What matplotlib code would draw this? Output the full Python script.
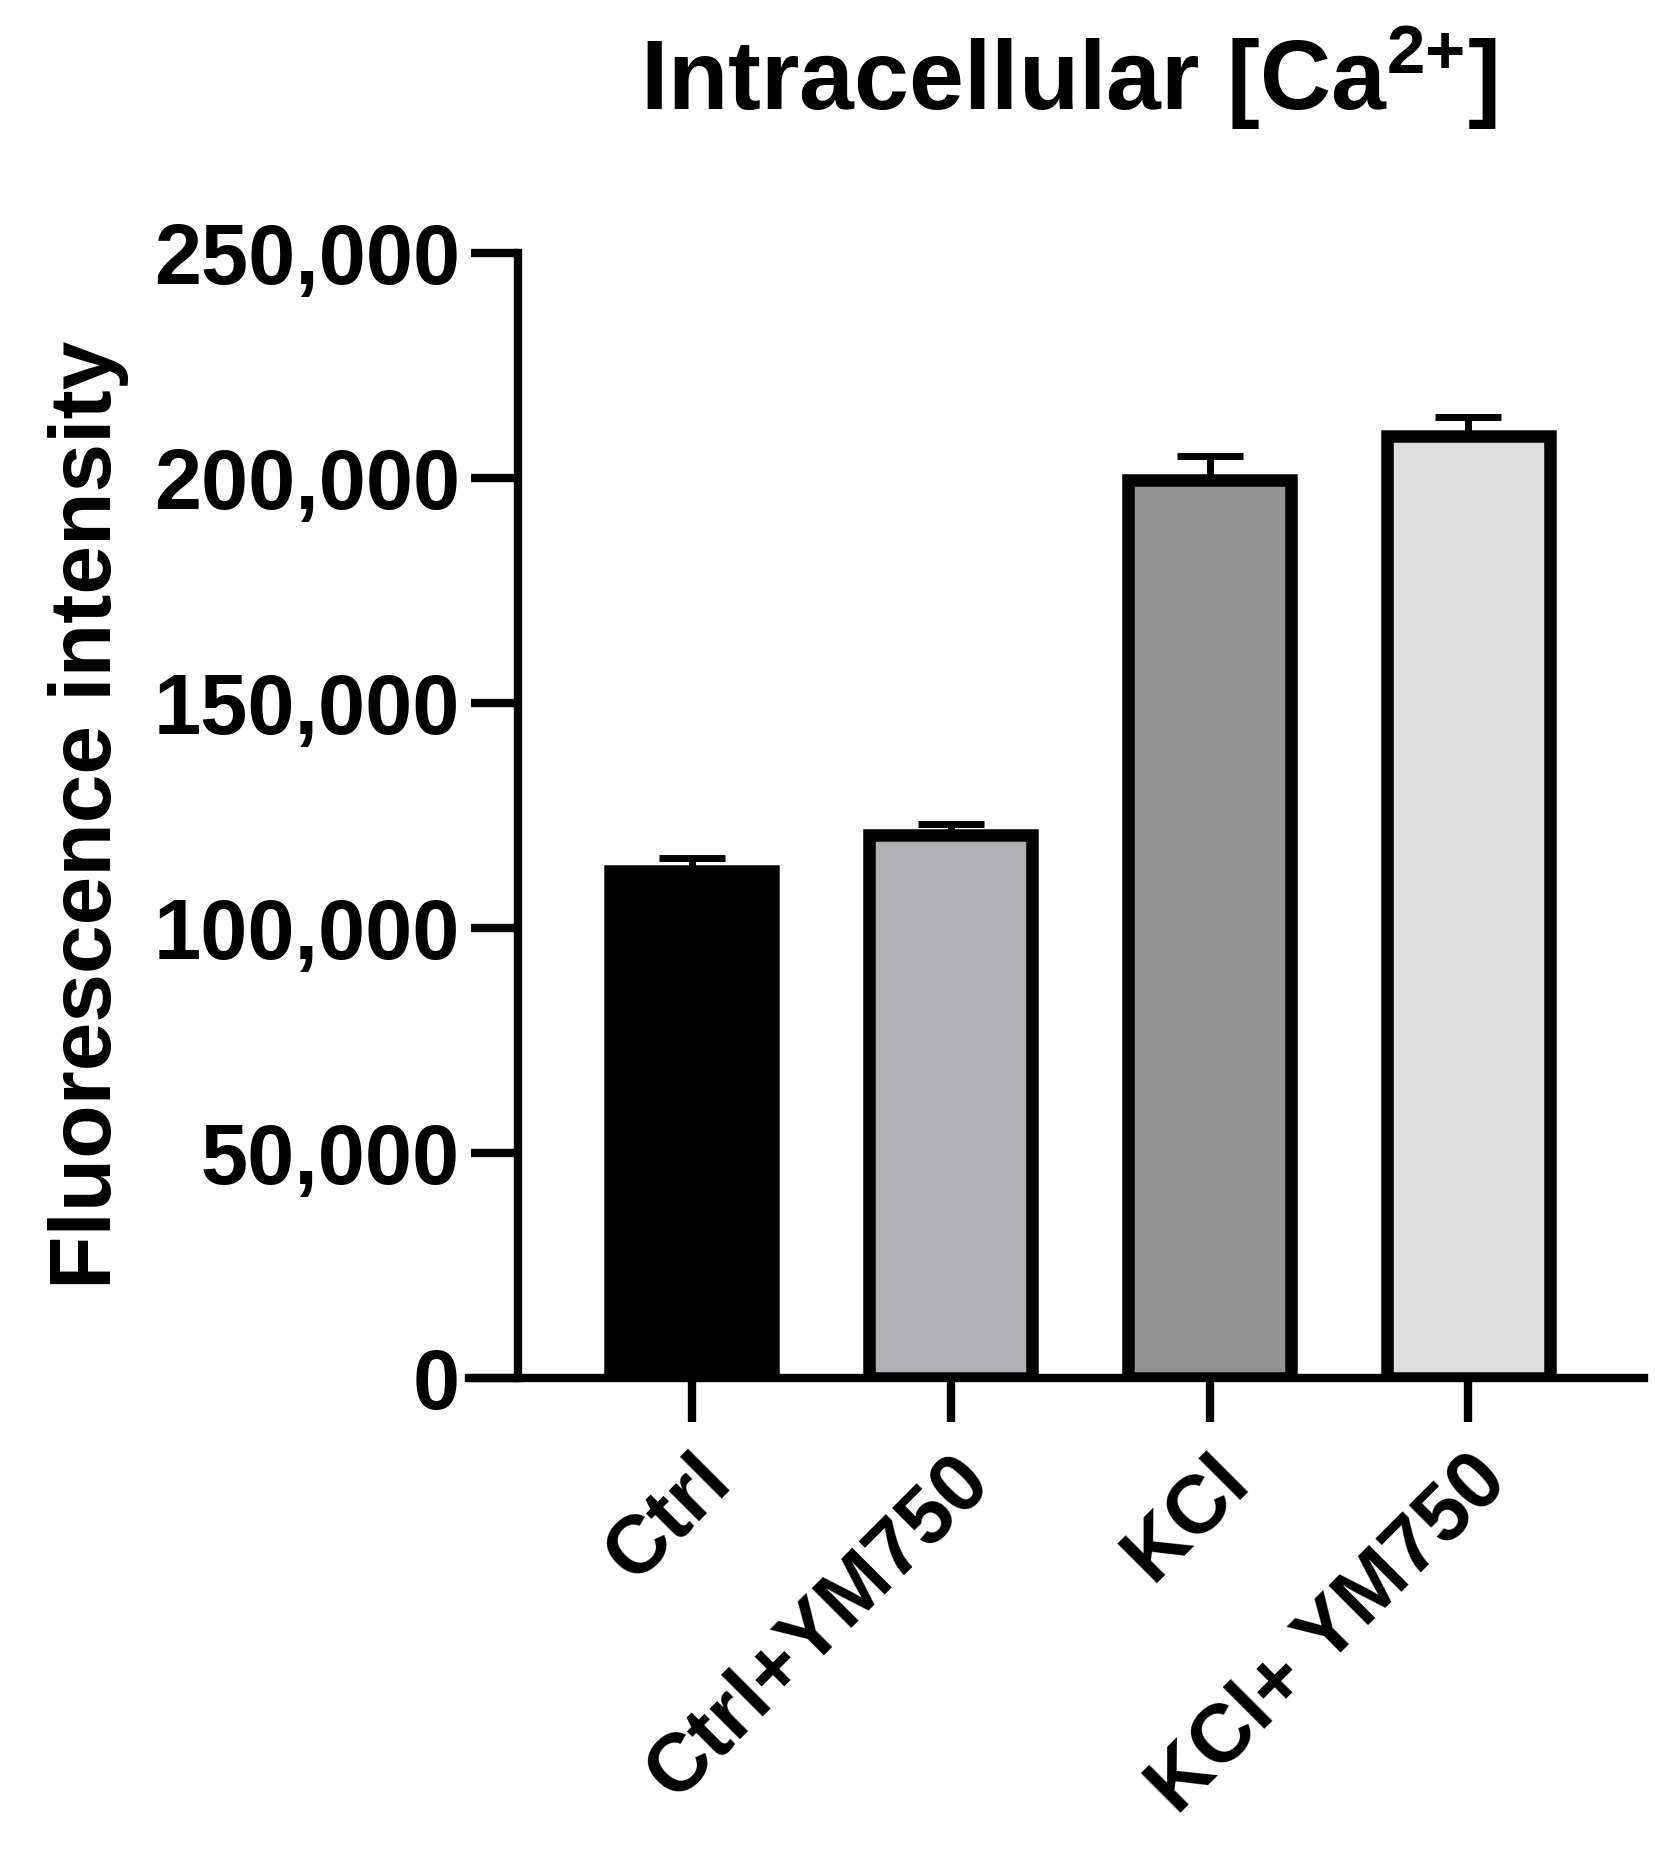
import matplotlib.pyplot as plt

plt.rcParams['font.family'] = ['Liberation Sans', 'DejaVu Sans']
plt.rcParams['font.weight'] = 'bold'
plt.rcParams['mathtext.fontset'] = 'custom'
plt.rcParams['mathtext.rm'] = 'Liberation Sans:bold'
plt.rcParams['mathtext.bf'] = 'Liberation Sans:bold'
plt.rcParams['mathtext.default'] = 'bf'

groups = ['Ctrl', 'Ctrl+YM750', 'KCl', 'KCl+ YM750']
means = [112700, 120600, 199400, 209200]
errs = [2900, 2400, 5300, 4200]
colors = ['#000000', '#b0afb3', '#939393', '#dcdcdc']

fig = plt.figure(figsize=(16.56, 18.57), dpi=100)
ax = fig.add_axes([0.313, 0.258, 0.68, 0.606])

x = range(len(groups))
ax.errorbar(x, means, yerr=[[0] * 4, errs], fmt='none', ecolor='black',
            elinewidth=5, capsize=24, capthick=5, zorder=1)
ax.bar(x, means, width=0.63, color=colors, edgecolor='black', linewidth=9, zorder=2)

ax.set_ylim(0, 250000)
ax.set_xlim(-0.67, 3.68)
ax.set_yticks(range(0, 250001, 50000))
ax.set_yticklabels([f'{v:,}' for v in range(0, 250001, 50000)], fontsize=61, fontweight='bold')
ax.set_xticks(list(x))
ax.set_xticklabels(groups, rotation=45, ha='right', rotation_mode='anchor',
                   fontsize=59, fontweight='bold')
ax.tick_params(axis='y', length=34, width=6, pad=8)
ax.tick_params(axis='x', length=32, width=6, pad=14)
for s in ['top', 'right']:
    ax.spines[s].set_visible(False)
for s in ['left', 'bottom']:
    ax.spines[s].set_linewidth(6)
ax.spines['bottom'].set_bounds(-0.67 - 0.19, 3.68)
ax.spines['bottom'].set_clip_on(False)
ax.set_ylabel('Fluorescence intensity', fontsize=63, fontweight='bold', labelpad=18)

fig.text(0.645, 0.958, 'Intracellular [Ca$^{2{+}}$]', ha='center', va='center',
         fontsize=71, fontweight='bold')

fig.savefig('out.png', dpi=100)
